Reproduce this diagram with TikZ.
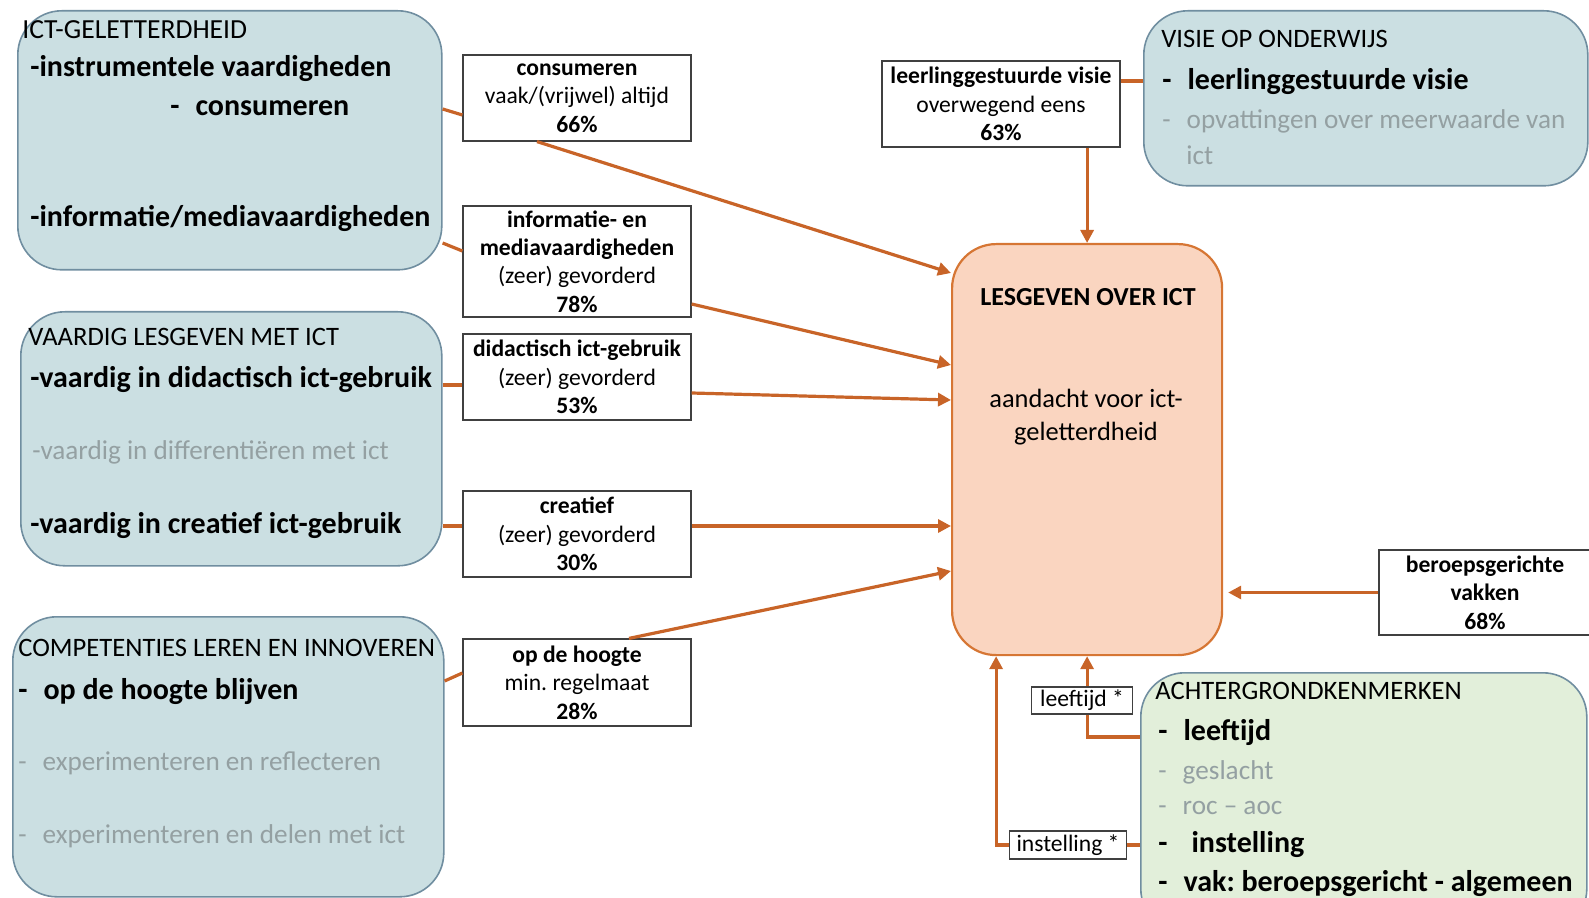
\documentclass[tikz,border=0pt]{standalone}
\usepackage{fontspec}
\setmainfont{Carlito}
\frenchspacing
\usetikzlibrary{
    positioning, % posicionamento relativo
    arrows.meta, % pontas de seta
    calc
}

\definecolor{themefill}{RGB}{203,223,226}
\definecolor{themeedge}{RGB}{112,142,160}
\definecolor{corefill}{RGB}{250,213,192}
\definecolor{coreedge}{RGB}{214,118,52}
\definecolor{bgfill}{RGB}{226,239,218}
\definecolor{flowcolor}{RGB}{200,100,40}
\definecolor{fadedtext}{RGB}{148,160,162}

\newcommand{\fs}[2]{\fontsize{#1}{#2}\selectfont}

\begin{document}
\begin{tikzpicture}[x=0.5pt, y=-0.5pt]

    % --- Estilos ---
    \tikzset{
        % caixas grandes (temas)
        theme_box/.style={
            draw=themeedge,
            line width=0.8pt,
            fill=themefill,
            rounded corners=22pt,
            anchor=north west,
            inner sep=0pt
        },
        % caixa central
        core_box/.style={
            draw=coreedge,
            line width=1.1pt,
            fill=corefill,
            rounded corners=22pt,
            anchor=north west,
            inner sep=0pt,
            minimum width=135pt,
            minimum height=205.5pt
        },
        % caixas com percentagens
        stat_box/.style={
            draw=black!75,
            line width=0.6pt,
            fill=white,
            minimum width=114pt,
            align=center,
            inner sep=0pt,
            font=\fs{11.8}{14.2}
        },
        head_text/.style={anchor=west, inner sep=0pt, font=\fs{13.3}{15}},
        main_item/.style={anchor=west, inner sep=0pt, font=\fs{15}{17}\bfseries},
        minor_item/.style={anchor=west, inner sep=0pt, font=\fs{13.6}{15}, text=fadedtext},
        lead_line/.style={draw=flowcolor, line width=1.6pt},
        flow_arrow/.style={
            -{Triangle[length=6.5pt,width=6.5pt]},
            draw=flowcolor,
            line width=1.6pt
        }
    }

    \useasboundingbox (0,0) rectangle (1589,898);
    \clip (0,0) rectangle (1589,898);

    % --- Caixas dos temas ---
    \node[theme_box, minimum width=212pt, minimum height=129.5pt] (ict) at (17,10) {};
    \node[theme_box, minimum width=210.5pt, minimum height=127pt] (skill) at (20,311) {};
    \node[theme_box, minimum width=215.5pt, minimum height=140pt] (comp) at (12,616) {};
    \node[theme_box, minimum width=222pt, minimum height=87.5pt] (visie) at (1143,10) {};
    \node[theme_box, fill=bgfill, minimum width=223pt, minimum height=130pt] (achter) at (1140,672) {};
    \node[core_box] (lesgeven) at (951,243) {};

    % ICT-geletterdheid
    \node[head_text, font=\fs{13.8}{15}] (icthead) at (22,30) {ICT-GELETTERDHEID};
    \node[main_item] (ictinstr) at (30,69) {-instrumentele vaardigheden};
    \node[main_item] (ictcons) at (170,108) {-\hspace{8pt}consumeren};
    \node[main_item] (ictinfo) at (30,218) {-informatie/mediavaardigheden};

    % vaardig lesgeven
    \node[head_text] (skillhead) at (28,337) {VAARDIG LESGEVEN MET ICT};
    \node[main_item] (skilldid) at (30,379) {-vaardig in didactisch ict-gebruik};
    \node[minor_item] (skilldiff) at (32,452) {-vaardig in differentiëren met ict};
    \node[main_item] (skillcre) at (30,525) {-vaardig in creatief ict-gebruik};

    % competenties
    \node[head_text] (comphead) at (18,648) {COMPETENTIES LEREN EN INNOVEREN};
    \node[main_item] (comphoog) at (18,692) {-\hspace{8pt}op de hoogte blijven};
    \node[minor_item] (compref) at (18,763) {-\hspace{8pt}experimenteren en reflecteren};
    \node[minor_item] (compdeel) at (18,836) {-\hspace{8pt}experimenteren en delen met ict};

    % visie
    \node[head_text] (visiehead) at (1161,39) {VISIE OP ONDERWIJS};
    \node[main_item] (visieitem) at (1162,82) {-\hspace{8pt}leerlinggestuurde visie};
    \node[minor_item] (visieopv) at (1162,121) {-\hspace{8pt}opvattingen over meerwaarde van};
    \node[minor_item] (visieict) at (1186,155) {ict};

    % achtergrondkenmerken
    \node[head_text] (achterhead) at (1155,691) {ACHTERGRONDKENMERKEN};
    \node[main_item] (achterlft) at (1158,733) {-\hspace{8pt}leeftijd};
    \node[minor_item] (achtergesl) at (1158,772) {-\hspace{8pt}geslacht};
    \node[minor_item] (achterroc) at (1158,808) {-\hspace{8pt}roc -- aoc};
    \node[main_item] (achterinst) at (1158,845) {-\hspace{12pt}instelling};
    \node[main_item] (achtervak) at (1158,884) {-\hspace{8pt}vak: beroepsgericht - algemeen};

    % caixa central
    \node[font=\fs{13}{15}\bfseries] (coretitle) at (1088,297) {LESGEVEN OVER ICT};
    \node[align=center, font=\fs{13.2}{16.5}] (coretext) at (1086,417) {aandacht voor ict-\\geletterdheid};

    % --- Percentagens ---
    \node[stat_box, minimum height=43pt] (statcons) at (577,98)
        {\textbf{consumeren}\\vaak/(vrijwel) altijd\\\textbf{66\%}};
    \node[stat_box, minimum height=55.5pt] (statinf) at (577,261.5)
        {\textbf{informatie- en}\\\textbf{mediavaardigheden}\\(zeer) gevorderd\\\textbf{78\%}};
    \node[stat_box, minimum height=43pt] (statdid) at (577,377)
        {\textbf{didactisch ict-gebruik}\\(zeer) gevorderd\\\textbf{53\%}};
    \node[stat_box, minimum height=43pt] (statcre) at (577,534)
        {\textbf{creatief}\\(zeer) gevorderd\\\textbf{30\%}};
    \node[stat_box, minimum height=43.5pt] (stathoog) at (577,682.5)
        {\textbf{op de hoogte}\\min. regelmaat\\\textbf{28\%}};
    \node[stat_box, minimum width=119pt, minimum height=43pt] (statvis) at (1001,104)
        {\textbf{leerlinggestuurde visie}\\overwegend eens\\\textbf{63\%}};
    \node[stat_box, minimum width=106pt, minimum height=42.5pt] (statber) at (1485,592.5)
        {\textbf{beroepsgerichte}\\\textbf{vakken}\\\textbf{68\%}};

    % --- Ligações ---
    \draw[lead_line] ($(ict.north east)+(0,99)$) -- ($(statcons.west)+(0,17)$);
    \draw[lead_line] ($(ict.north east)+(0,233)$) -- ($(statinf.west)+(0,-10.5)$);
    \draw[lead_line] ($(skill.north east)+(0,74)$) -- ($(statdid.west)+(0,8)$);
    \draw[lead_line] ($(skill.north east)+(0,215)$) -- ($(statcre.west)+(0,-8)$);
    \draw[lead_line] ($(comp.north east)+(0,65)$) -- ($(stathoog.west)+(0,-9.5)$);
    \draw[lead_line] ($(visie.north west)+(0,71)$) -- ($(statvis.east)+(0,-23)$);
    \draw[lead_line] ($(statber.south)+(57,0)$) -- ($(statber.south)+(57,0)$ |- achter.north);

    \draw[flow_arrow] ($(statcons.south)+(-40,0)$) -- ($(lesgeven.north west)+(0,30)$);
    \draw[flow_arrow] ($(statinf.east)+(0,42.5)$) -- ($(lesgeven.north west)+(0,122)$);
    \draw[flow_arrow] ($(statdid.east)+(0,16)$) -- ($(lesgeven.north west)+(0,157)$);
    \draw[flow_arrow] ($(statcre.east)+(0,-8)$) -- ($(lesgeven.north west)+(0,283)$);
    \draw[flow_arrow] ($(stathoog.north)+(52,0)$) -- ($(lesgeven.north west)+(0,328)$);
    \draw[flow_arrow] (statvis.south -| lesgeven.north) -- (lesgeven.north);
    \draw[flow_arrow] (statber.west) -- ($(lesgeven.east |- statber.west)+(5,0)$);
    \draw[flow_arrow] (achter.west |- 0,737) -| (lesgeven.south);
    \draw[flow_arrow] (achter.west |- 0,845) -| ($(lesgeven.south)+(-91,0)$);

    % rótulos sobre as linhas
    \node[stat_box, minimum width=50.5pt, minimum height=13.5pt] (lftlabel) at (1082,700.5) {leeftijd *};
    \node[stat_box, minimum width=58.5pt, minimum height=14pt] (instlabel) at (1068,845) {instelling *};

\end{tikzpicture}
\end{document}
